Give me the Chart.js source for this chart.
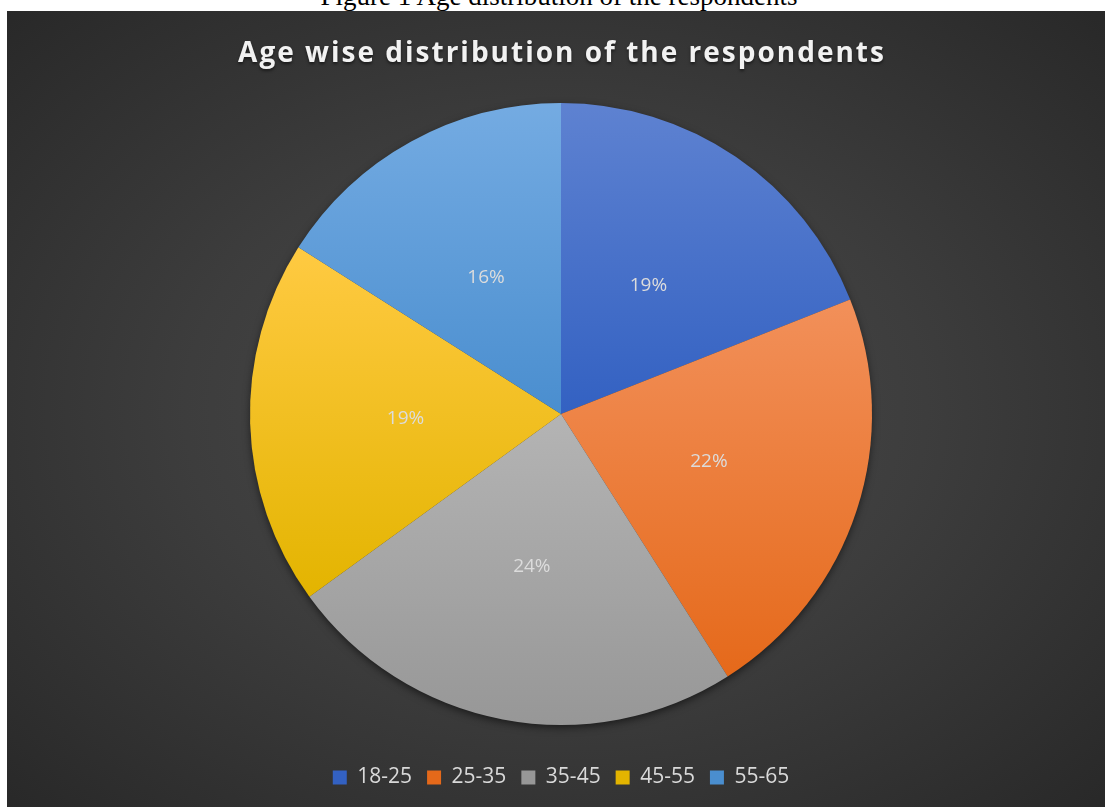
<!DOCTYPE html>
<html>
<head>
<meta charset="utf-8">
<script src="https://cdn.jsdelivr.net/npm/chart.js@4/dist/chart.umd.min.js"></script>
<style>
  html, body { margin: 0; padding: 0; background: #fff; overflow: hidden; }
  #caption {
    position: absolute; left: 0; top: -19px; width: 1118px; text-align: center;
    font-family: "Liberation Serif", "Times New Roman", serif; font-size: 27px; color: #000;
  }
  #panel {
    position: absolute; left: 7px; top: 11px; width: 1098px; height: 796px;
    background: radial-gradient(ellipse 75% 75% at 50% 50%, #4b4b4b 0%, #3d3d3d 45%, #262626 100%);
  }
</style>
</head>
<body>
<div id="caption">Figure 1 Age distribution of the respondents</div>
<div id="panel"><canvas id="pie" width="1098" height="796"></canvas></div>
<script>
var titleText = 'Age wise distribution of the respondents';
var ageGroups = ['18-25', '25-35', '35-45', '45-55', '55-65'];
var shares = [19, 22, 24, 19, 16];
// top / bottom shade of each slice
var topColors = ['#5e82d1', '#f2905a', '#b4b4b4', '#ffca42', '#74abe2'];
var bottomColors = ['#3361c2', '#e5691a', '#979797', '#e3b400', '#4a8ecf'];

// vertical gradient spanning the slice's own height
function sliceFill(context) {
    var chart = context.chart;
    var i = context.dataIndex;
    var area = chart.chartArea;
    if (!area) return bottomColors[i];
    var cx = (area.left + area.right) / 2, cy = (area.top + area.bottom) / 2;
    var r = 311;
    var total = shares.reduce(function (s, v) { return s + v; }, 0);
    var before = 0;
    for (var k = 0; k < i; k++) before += shares[k];
    var a0 = -Math.PI / 2 + before / total * 2 * Math.PI;
    var a1 = a0 + shares[i] / total * 2 * Math.PI;
    var ys = [cy, cy + Math.sin(a1) * r];
    for (var a = a0; a <= a1; a += 0.01) ys.push(cy + Math.sin(a) * r);
    var y0 = Math.min.apply(null, ys), y1 = Math.max.apply(null, ys);
    var g = chart.ctx.createLinearGradient(0, y0, 0, y1);
    g.addColorStop(0, topColors[i]);
    g.addColorStop(1, bottomColors[i]);
    return g;
}

// percentage labels at half radius of each slice
var sliceLabels = {
    id: 'sliceLabels',
    afterDatasetsDraw: function (chart) {
        var ctx = chart.ctx;
        var total = shares.reduce(function (s, v) { return s + v; }, 0);
        ctx.save();
        ctx.font = '19px "Open Sans", sans-serif';
        ctx.fillStyle = '#dcdcdc';
        ctx.textAlign = 'center';
        ctx.textBaseline = 'middle';
        chart.getDatasetMeta(0).data.forEach(function (arc, i) {
            var p = arc.tooltipPosition();
            ctx.fillText(Math.round(shares[i] / total * 100) + '%', p.x, p.y);
        });
        ctx.restore();
    }
};

// spaced-out bold heading
var spacedTitle = {
    id: 'spacedTitle',
    afterDraw: function (chart) {
        var ctx = chart.ctx;
        ctx.save();
        ctx.font = 'bold 28px "Open Sans", sans-serif';
        ctx.letterSpacing = '2px';
        ctx.fillStyle = '#f2f2f2';
        ctx.textAlign = 'center';
        ctx.textBaseline = 'middle';
        ctx.shadowColor = 'rgba(0,0,0,0.5)';
        ctx.shadowOffsetY = 2;
        ctx.shadowBlur = 3;
        ctx.fillText(titleText, 555, 43);
        ctx.restore();
    }
};

// one soft shadow under the whole pie
var pieShadow = {
    id: 'pieShadow',
    beforeDatasetsDraw: function (chart) {
        var arc = chart.getDatasetMeta(0).data[0];
        var ctx = chart.ctx;
        ctx.save();
        ctx.shadowColor = 'rgba(0,0,0,0.6)';
        ctx.shadowBlur = 9;
        ctx.shadowOffsetY = 3;
        ctx.fillStyle = '#3a3a3a';
        ctx.beginPath();
        ctx.arc(arc.x, arc.y, arc.outerRadius - 1, 0, Math.PI * 2);
        ctx.fill();
        ctx.restore();
    }
};

new Chart(document.getElementById('pie'), {
    type: 'pie',
    data: {
        labels: ageGroups,
        datasets: [{
            data: shares,
            backgroundColor: sliceFill,
            borderWidth: 0,
            radius: 311
        }]
    },
    options: {
        responsive: false,
        animation: false,
        layout: { padding: { top: 65, bottom: 9, left: 243, right: 233 } },
        plugins: {
            tooltip: { enabled: false },
            legend: {
                position: 'bottom',
                labels: {
                    color: '#d9d9d9',
                    font: { family: '"Open Sans", sans-serif', size: 21 },
                    boxWidth: 14,
                    boxHeight: 14,
                    padding: 15,
                    generateLabels: function (chart) {
                        return ageGroups.map(function (name, i) {
                            return {
                                text: name,
                                fillStyle: bottomColors[i],
                                strokeStyle: bottomColors[i],
                                lineWidth: 0,
                                fontColor: '#d9d9d9',
                                index: i
                            };
                        });
                    }
                }
            }
        }
    },
    plugins: [pieShadow, sliceLabels, spacedTitle]
});
</script>
</body>
</html>
